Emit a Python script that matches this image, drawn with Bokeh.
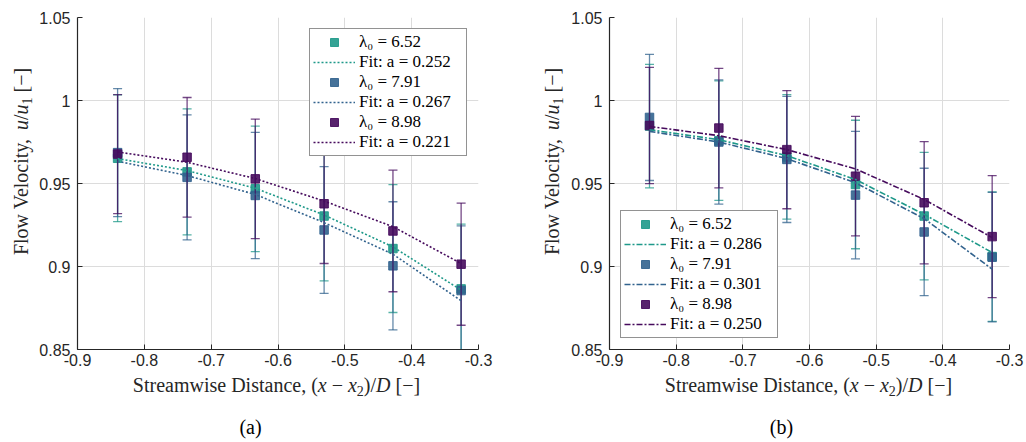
from bokeh.plotting import figure
from bokeh.models import (ColumnDataSource, Range1d, FixedTicker, Label, Legend, LegendItem)
from bokeh.layouts import row, column
from bokeh.embed import file_html
from bokeh.resources import INLINE

# ---------------- data ----------------
x_pos = [-0.840, -0.736, -0.634, -0.531, -0.428, -0.326]
x_ticks = [-0.9, -0.8, -0.7, -0.6, -0.5, -0.4, -0.3]
x_tick_labels = ["-0.9", "-0.8", "-0.7", "-0.6", "-0.5", "-0.4", "-0.3"]
y_ticks = [0.85, 0.9, 0.95, 1.0, 1.05]
y_tick_labels = ["0.85", "0.9", "0.95", "1", "1.05"]

series_names = ["λ₀ = 6.52", "λ₀ = 7.91", "λ₀ = 8.98"]
colors = ["#1f998a", "#32638e", "#460b5d"]

# panel (a)
a_vals = [
    [0.9652, 0.9570, 0.9468, 0.9304, 0.9108, 0.8865],
    [0.9686, 0.9537, 0.9428, 0.9220, 0.9004, 0.8855],
    [0.9677, 0.9658, 0.9528, 0.9378, 0.9214, 0.9014],
]
a_errs = [
    [0.0382, 0.0380, 0.0378, 0.0390, 0.0385, 0.0390],
    [0.0386, 0.0377, 0.0380, 0.0382, 0.0386, 0.0390],
    [0.0358, 0.0360, 0.0360, 0.0360, 0.0366, 0.0368],
]
a_fits = [
    [0.9650, 0.9578, 0.9472, 0.9310, 0.9118, 0.8858],
    [0.9634, 0.9548, 0.9434, 0.9264, 0.9074, 0.8794],
    [0.9690, 0.9628, 0.9530, 0.9394, 0.9240, 0.9018],
]
a_fit_labels = ["Fit: a = 0.252", "Fit: a = 0.267", "Fit: a = 0.221"]

# panel (b)
b_vals = [
    [0.9846, 0.9758, 0.9660, 0.9494, 0.9304, 0.9060],
    [0.9898, 0.9750, 0.9645, 0.9430, 0.9208, 0.9056],
    [0.9849, 0.9834, 0.9704, 0.9544, 0.9384, 0.9180],
]
b_errs = [
    [0.0372, 0.0360, 0.0375, 0.0387, 0.0384, 0.0390],
    [0.0380, 0.0374, 0.0380, 0.0384, 0.0384, 0.0390],
    [0.0350, 0.0360, 0.0356, 0.0360, 0.0368, 0.0368],
]
b_fits = [
    [0.9824, 0.9764, 0.9668, 0.9524, 0.9314, 0.9084],
    [0.9814, 0.9750, 0.9650, 0.9504, 0.9288, 0.8984],
    [0.9844, 0.9788, 0.9704, 0.9588, 0.9404, 0.9174],
]
b_fit_labels = ["Fit: a = 0.286", "Fit: a = 0.301", "Fit: a = 0.250"]

captions = ["(a)", "(b)"]

AX = "#262626"
SERIF = "Liberation Serif"
LABEL_SIZE = 20
MID = 0.3375  # observed anchor offset of label text (fraction of font size)

# Times metrics (per 1000 em) used to lay out mixed upright/italic label pieces
TR = {' ': 250, '(': 333, ')': 333, '/': 278, '[': 333, ']': 333, '−': 564, ',': 250,
      'S': 556, 't': 278, 'r': 333, 'e': 444, 'a': 444, 'm': 778, 'w': 722, 'i': 278,
      's': 389, 'D': 722, 'n': 500, 'c': 444, 'F': 556, 'l': 278, 'o': 500, 'V': 722,
      'y': 500, '1': 500, '2': 500, 'u': 500, 'x': 500}
TI = {'x': 444, 'D': 722, 'u': 500}


def piece_width(text, italic, size):
    tbl = TI if italic else TR
    return sum(tbl.get(ch, 500) for ch in text) * size / 1000.0


def add_pieces(p, pieces, cx, cy, size, vertical=False):
    """cx, cy: screen position (y upward) of the label's centre along its baseline."""
    widths = [piece_width(t, it, size * f) for (t, it, f, sh) in pieces]
    total = sum(widths)
    pos = -total / 2.0
    for (t, it, f, sh), w in zip(pieces, widths):
        fs = size * f
        lead = (len(t) - len(t.lstrip(' '))) * 250 * fs / 1000.0
        txt = t.strip(' ')
        if vertical:
            x = cx + sh * size - MID * fs
            y = cy + pos + lead
            ang = 1.5707963267948966
        else:
            x = cx + pos + lead
            y = cy - sh * size + MID * fs
            ang = 0.0
        p.add_layout(Label(x=x, y=y, x_units="screen", y_units="screen", text=txt,
                           angle=ang, text_align="left", text_baseline="alphabetic",
                           text_font=SERIF, text_font_size=f"{fs:.1f}px",
                           text_font_style="italic" if it else "normal",
                           text_color=AX))
        pos += w


xlabel_pieces = [("Streamwise Distance, (", False, 1.0, 0.0), ("x", True, 1.0, 0.0),
                 (" − ", False, 1.0, 0.0), ("x", True, 1.0, 0.0), ("2", False, 0.7, 0.22),
                 (")/", False, 1.0, 0.0), ("D", True, 1.0, 0.0), (" [−]", False, 1.0, 0.0)]
ylabel_pieces = [("Flow Velocity, ", False, 1.0, 0.0), ("u", True, 1.0, 0.0),
                 ("/", False, 1.0, 0.0), ("u", True, 1.0, 0.0), ("1", False, 0.7, 0.22),
                 (" [−]", False, 1.0, 0.0)]

TOP_H = 372
TOTAL_W = 1026
TOTAL_H = 442


def blank_fig(w, h):
    f = figure(width=w, height=h, output_backend="svg", toolbar_location=None,
               x_axis_type=None, y_axis_type=None, x_range=Range1d(0, 1),
               y_range=Range1d(0, 1), min_border=0, min_border_left=0,
               min_border_right=0, min_border_top=0, min_border_bottom=0)
    f.outline_line_color = None
    f.xgrid.visible = False
    f.ygrid.visible = False
    return f


def make_panel(vals, errs, fits, fit_labels, dash, width, border_left, border_right,
               border_top, border_bottom, legend_loc):
    p = figure(width=width, height=TOP_H, output_backend="svg", toolbar_location=None,
               x_range=Range1d(-0.9, -0.3), y_range=Range1d(0.85, 1.05),
               min_border_left=border_left, min_border_right=border_right,
               min_border_top=border_top, min_border_bottom=border_bottom)
    p.outline_line_color = None
    p.background_fill_color = "white"
    for ax in (p.xaxis[0], p.yaxis[0]):
        ax.axis_line_color = AX
        ax.axis_line_width = 1.2
        ax.major_tick_line_color = AX
        ax.major_tick_in = 5
        ax.major_tick_out = 0
        ax.minor_tick_line_color = None
        ax.major_label_text_font = "Liberation Sans"
        ax.major_label_text_font_size = "16px"
        ax.major_label_text_color = AX
    p.xaxis.ticker = FixedTicker(ticks=x_ticks)
    p.yaxis.ticker = FixedTicker(ticks=y_ticks)
    p.xaxis.major_label_overrides = dict(zip(x_ticks, x_tick_labels))
    p.yaxis.major_label_overrides = dict(zip(y_ticks, y_tick_labels))
    p.xaxis.major_label_standoff = 4
    p.yaxis.major_label_standoff = 7
    for g in (p.xgrid[0], p.ygrid[0]):
        g.grid_line_color = "#dcdcdc"
        g.grid_line_width = 1

    sq_rs, fit_rs = [], []
    for i in range(3):
        c = colors[i]
        lower = [v - e for v, e in zip(vals[i], errs[i])]
        upper = [v + e for v, e in zip(vals[i], errs[i])]
        src = ColumnDataSource(dict(x=x_pos, y=vals[i], lo=lower, hi=upper))
        p.segment(x0="x", y0="lo", x1="x", y1="hi", source=src, line_color=c,
                  line_alpha=0.75, line_width=1.3)
        p.scatter(x="x", y="lo", source=src, marker="dash", size=9, line_color=c,
                  line_alpha=0.75, line_width=1.3)
        p.scatter(x="x", y="hi", source=src, marker="dash", size=9, line_color=c,
                  line_alpha=0.75, line_width=1.3)
        sq = p.scatter(x="x", y="y", source=src, marker="square", size=8.5,
                       fill_color=c, line_color=c, fill_alpha=0.9, line_alpha=0.9)
        sq_rs.append(sq)
    for i in range(3):
        fr = p.line(x=x_pos, y=fits[i], line_color=colors[i], line_width=1.6,
                    line_dash=dash)
        fit_rs.append(fr)

    items = []
    for i in range(3):
        items.append(LegendItem(label=series_names[i], renderers=[sq_rs[i]]))
        items.append(LegendItem(label=fit_labels[i], renderers=[fit_rs[i]]))
    leg = Legend(items=items, location=legend_loc, margin=11, padding=3, spacing=0,
                 glyph_width=42, glyph_height=20, label_height=20, label_width=104,
                 label_standoff=4, label_text_font=SERIF, label_text_font_size="17px",
                 label_text_color="black", border_line_color=AX, border_line_width=1,
                 background_fill_color="white", background_fill_alpha=1.0)
    p.add_layout(leg)
    return p


# panel (a): frame x 75..478, y 16..349 ; panel (b): frame x 607..1009, y 17..350
YA_W = 36
YB_W = 55
pa = make_panel(a_vals, a_errs, a_fits, a_fit_labels, "2 2", 513 - YA_W,
                75 - YA_W, 35, 16, TOP_H - 349, "top_right")
pb = make_panel(b_vals, b_errs, b_fits, b_fit_labels, "6 2 2 2", 513 - YB_W,
                607 - 513 - YB_W, 17, 17, TOP_H - 350, "bottom_left")

ya = blank_fig(YA_W, TOP_H)
add_pieces(ya, ylabel_pieces, 27, TOP_H - 184, LABEL_SIZE, vertical=True)
yb = blank_fig(YB_W, TOP_H)
add_pieces(yb, ylabel_pieces, 558 - 513, TOP_H - 184, LABEL_SIZE, vertical=True)

bottom = blank_fig(TOTAL_W, TOTAL_H - TOP_H)
add_pieces(bottom, xlabel_pieces, 276, TOTAL_H - 391, LABEL_SIZE)
add_pieces(bottom, xlabel_pieces, 808, TOTAL_H - 391, LABEL_SIZE)
for cap, cx in zip(captions, [250, 781]):
    bottom.add_layout(Label(x=cx, y=TOTAL_H - 433 + MID * LABEL_SIZE, x_units="screen",
                            y_units="screen", text=cap, text_align="center",
                            text_baseline="alphabetic", text_font=SERIF,
                            text_font_size=f"{LABEL_SIZE}px", text_color="black"))

layout = column(row(ya, pa, yb, pb), bottom)
open("out.html", "w").write(file_html(layout, INLINE))
